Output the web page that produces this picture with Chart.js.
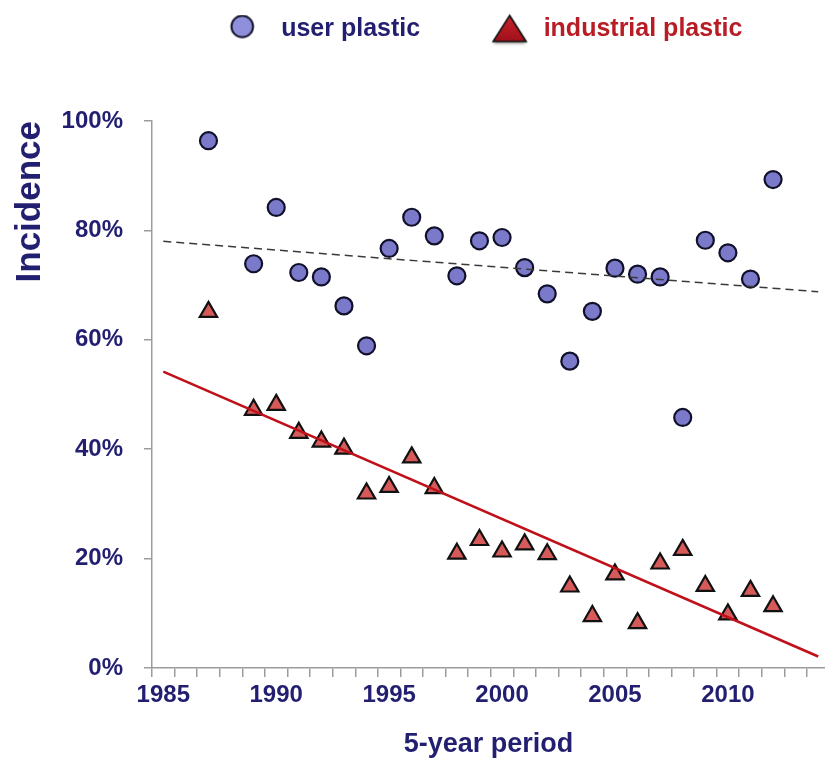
<!DOCTYPE html>
<html>
<head>
<meta charset="utf-8">
<script src="https://cdn.jsdelivr.net/npm/chart.js@4.4.1/dist/chart.umd.min.js"></script>
<style>
html,body{margin:0;padding:0;background:#ffffff;}
#wrap{width:825px;height:763px;position:relative;}
</style>
</head>
<body>
<div id="wrap"><canvas id="c" width="825" height="763"></canvas></div>
<script>
// ---- data ----
const years = [1987,1989,1990,1991,1992,1993,1994,1995,1996,1997,1998,1999,2000,2001,2002,2003,2004,2005,2006,2007,2008,2009,2010,2011,2012];
const userPlastic = [96.4,73.9,84.2,72.3,71.5,66.2,58.9,76.7,82.4,79.0,71.7,78.1,78.7,73.2,68.4,56.1,65.2,73.1,72.0,71.5,45.8,78.2,75.9,71.1,89.3];
const industrialPlastic = [65.1,47.2,48.1,43.0,41.4,40.1,31.9,33.1,38.5,32.9,20.9,23.4,21.3,22.6,20.8,14.9,9.5,17.1,8.2,19.1,21.6,15.0,9.8,14.1,11.3];
const trendYears = [1985, 2014];
const userTrend = [78.0, 68.8];
const industrialTrend = [54.2, 2.1];
const xLabelYears = [1985,1990,1995,2000,2005,2010];
const yTickValues = [0,20,40,60,80,100];
const seriesNames = ['user plastic', 'industrial plastic'];
const xTitle = '5-year period';
const yTitle = 'Incidence';

// ---- styles ----
const NAVY = '#231f70';
const RED_TEXT = '#b81d25';
const AXIS = '#9c9c9c';
const FONT = '"Liberation Sans", Arial, Helvetica, sans-serif';
Chart.defaults.font.family = FONT;

function makeCircleIcon() {
  const c = document.createElement('canvas');
  c.width = 72; c.height = 30;
  const g = c.getContext('2d');
  g.beginPath();
  g.arc(59.5, 12, 10.8, 0, Math.PI * 2);
  g.fillStyle = '#8f8fdb';
  g.fill();
  g.lineWidth = 2;
  g.strokeStyle = '#15152e';
  g.stroke();
  return c;
}
function makeTriangleIcon() {
  const c = document.createElement('canvas');
  c.width = 94; c.height = 34;
  const g = c.getContext('2d');
  const path = () => {
    g.beginPath();
    g.moveTo(75.5, 3);
    g.lineTo(92, 29);
    g.lineTo(59, 29);
    g.closePath();
  };
  g.save();
  g.shadowColor = 'rgba(0,0,0,0.45)';
  g.shadowBlur = 3;
  g.shadowOffsetY = 2;
  path();
  const grad = g.createLinearGradient(0, 3, 0, 29);
  grad.addColorStop(0, '#c8242c');
  grad.addColorStop(1, '#a0101a');
  g.fillStyle = grad;
  g.fill();
  g.restore();
  path();
  g.lineWidth = 1.6;
  g.lineJoin = 'miter';
  g.strokeStyle = '#111111';
  g.stroke();
  return c;
}
const circleIcon = makeCircleIcon();
const triangleIcon = makeTriangleIcon();

const legendPlacement = {
  id: 'legendPlacement',
  afterLayout(chart) {
    const lg = chart.legend;
    if (!lg) return;
    const h = lg.height;
    lg.top = 6;
    lg.bottom = lg.top + h;
    lg.left = 86;
    lg.right = 825;
  }
};

const toPoints = (xs, ys) => xs.map((x, i) => ({x: x, y: ys[i]}));

new Chart(document.getElementById('c'), {
  type: 'scatter',
  data: {
    datasets: [
      {
        label: seriesNames[0],
        data: toPoints(years, userPlastic),
        pointStyle: 'circle',
        pointRadius: 8.5,
        pointHoverRadius: 8.5,
        pointBorderWidth: 2.2,
        backgroundColor: '#7b79c9',
        borderColor: '#10102a',
        order: 2
      },
      {
        label: seriesNames[1],
        data: toPoints(years, industrialPlastic),
        pointStyle: 'triangle',
        pointRadius: 10,
        pointHoverRadius: 10,
        pointBorderWidth: 2.2,
        backgroundColor: '#d65a5a',
        borderColor: '#111111',
        order: 2
      },
      {
        type: 'line',
        label: 'user trend',
        data: toPoints(trendYears, userTrend),
        showLine: true,
        borderColor: '#3a3a3a',
        borderWidth: 1.5,
        borderDash: [8, 5],
        pointRadius: 0,
        fill: false,
        order: 0
      },
      {
        type: 'line',
        label: 'industrial trend',
        data: toPoints(trendYears, industrialTrend),
        showLine: true,
        borderColor: '#c0101a',
        borderWidth: 2.5,
        pointRadius: 0,
        fill: false,
        order: 0
      }
    ]
  },
  options: {
    responsive: false,
    animation: false,
    devicePixelRatio: 1,
    layout: { autoPadding: false, padding: { top: 75, right: 0, bottom: 0, left: 0 } },
    plugins: {
      tooltip: { enabled: false },
      legend: {
        display: true,
        position: 'top',
        align: 'center',
        labels: {
          usePointStyle: true,
          pointStyleWidth: 100,
          boxHeight: 25,
          padding: 11,
          font: { size: 25, weight: 'bold', family: FONT },
          generateLabels: (chart) => [
            { text: chart.data.datasets[0].label, fontColor: NAVY, pointStyle: circleIcon, fillStyle: '#8f8fdb', strokeStyle: '#15152e', lineWidth: 0, hidden: false, datasetIndex: 0 },
            { text: chart.data.datasets[1].label, fontColor: RED_TEXT, pointStyle: triangleIcon, fillStyle: '#b81d25', strokeStyle: '#111', lineWidth: 0, hidden: false, datasetIndex: 1 }
          ]
        }
      }
    },
    scales: {
      x: {
        type: 'linear',
        position: 'bottom',
        min: 1984.5,
        max: 2014.3,
        afterBuildTicks: (s) => {
          const t = [];
          for (let v = Math.ceil(s.min); v <= Math.floor(s.max); v++) t.push({ value: v });
          s.ticks = t;
        },
        afterFit: (s) => { s.height = 95; },
        grid: { offset: true, drawOnChartArea: false, drawTicks: true, tickLength: 9, color: AXIS, lineWidth: 1.5 },
        border: { display: true, color: AXIS, width: 1.5 },
        ticks: {
          autoSkip: false,
          maxRotation: 0,
          minRotation: 0,
          padding: 4,
          color: NAVY,
          font: { size: 24, weight: 'bold', family: FONT },
          callback: (v) => xLabelYears.includes(v) ? String(v) : ''
        },
        title: { display: true, text: xTitle, color: NAVY, font: { size: 27, weight: 'bold', family: FONT }, padding: { top: 0, bottom: 2 } }
      },
      y: {
        type: 'linear',
        position: 'left',
        min: 0,
        max: 100,
        afterBuildTicks: (s) => { s.ticks = yTickValues.map(v => ({ value: v })); },
        afterFit: (s) => { s.width = 152; },
        grid: { drawOnChartArea: false, drawTicks: true, tickLength: 8, color: AXIS, lineWidth: 1.5 },
        border: { display: true, color: AXIS, width: 1.5 },
        ticks: {
          padding: 21,
          color: NAVY,
          font: { size: 24, weight: 'bold', family: FONT },
          callback: (v) => v + '%'
        },
        title: { display: true, text: yTitle, align: 'end', color: NAVY, font: { size: 35, weight: 'bold', family: FONT }, padding: { top: 9, bottom: 0 } }
      }
    }
  },
  plugins: [legendPlacement]
});
</script>
</body>
</html>
